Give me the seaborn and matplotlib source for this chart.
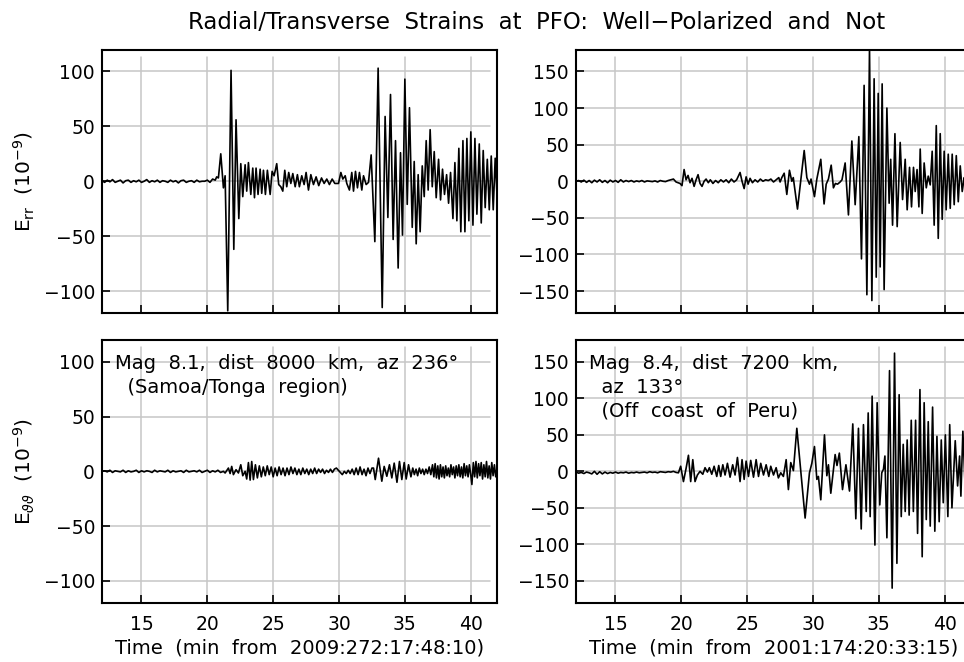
import matplotlib
matplotlib.use('Agg')
import matplotlib.pyplot as plt
import pandas as pd
import seaborn as sns

# quiet pre-event samples (min), shared by all four traces
quiet_t = [12.0, 12.2, 12.4, 12.6, 12.8, 13.0, 13.2, 13.4, 13.6, 13.8,
           14.0, 14.2, 14.4, 14.6, 14.8, 15.0, 15.2, 15.4, 15.6, 15.8,
           16.0, 16.2, 16.4, 16.6, 16.8, 17.0, 17.2, 17.4, 17.6, 17.8,
           18.0, 18.2, 18.4, 18.6, 18.8, 19.0, 19.2, 19.4, 19.6]

# Samoa/Tonga, radial strain E_rr (1e-9)
samoa_rr_quiet = [0.5, -1, 1, -0.5, 1.5, -1, 0, 1, -1.5, 0.5,
                  1, -1, 0.5, -0.5, 1, -1, 0, 1.5, -1, 0.5,
                  -0.5, 1, -1, 0.5, 0, -1, 1, -0.5, 0.5, -1.5,
                  0.5, 1, -1, 0, 0.5, -1, 1, -0.5, 0]
samoa_rr_t = [19.8, 20.0, 20.2, 20.4, 20.6, 20.71, 20.84, 21.02, 21.22, 21.35,
              21.55, 21.80, 22.01, 22.18, 22.39, 22.54, 22.69, 22.87, 22.99, 23.12,
              23.30, 23.45, 23.58, 23.70, 23.85, 24.01, 24.13, 24.26, 24.41, 24.56,
              24.77, 24.92, 25.07, 25.27, 25.42, 25.58, 25.73, 25.88, 26.03, 26.18,
              26.34, 26.49, 26.67, 26.84, 26.99, 27.17, 27.35, 27.50, 27.68, 27.86,
              28.06, 28.26, 28.46, 28.67, 28.87, 29.07, 29.27, 29.48, 29.68, 29.96,
              30.14, 30.29, 30.47, 30.59, 30.79, 30.97, 31.10, 31.25, 31.40, 31.55,
              31.73, 31.86, 32.06, 32.24, 32.44, 32.72, 32.97, 33.28, 33.50, 33.71,
              33.91, 34.11, 34.29, 34.49, 34.67, 34.82, 35.00, 35.18, 35.35, 35.56,
              35.71, 35.86, 36.01, 36.16, 36.32, 36.47, 36.62, 36.77, 36.92, 37.08,
              37.23, 37.38, 37.56, 37.71, 37.86, 38.01, 38.17, 38.32, 38.47, 38.65,
              38.80, 38.95, 39.10, 39.25, 39.41, 39.56, 39.71, 39.86, 40.01, 40.17,
              40.32, 40.47, 40.65, 40.80, 40.95, 41.10, 41.26, 41.41, 41.56, 41.71,
              41.86, 42.02]
samoa_rr_v = [0, 1, -1, 2, 1, 4, 3, 25, -6, 5,
              -118, 101, -62, 56, -34, 16, -14, 15, -9, 17,
              -12, 12, -15, 12, -12, 11, -11, 10, -12, 10,
              -12, 9, 5, 16, -3, -5, -9, 10, -5, 8,
              -2, 7, -5, 6, -5, 5, -3, 8, -8, 6,
              -3, 4, -4, 3, -2, 2, -3, 2, -2, -2,
              8, 2, 5, -2, -8, 8, -9, 9, -6, 8,
              -8, 5, -3, -1, 24, -55, 103, -115, 59, -33,
              79, -53, 37, -79, 26, -49, 93, -21, 67, -42,
              18, -57, 6, -46, 14, -14, 37, -8, 47, -5,
              27, -15, 20, -17, 11, -12, 6, -20, 8, -34,
              17, -36, 30, -46, 37, -46, 39, -36, 45, -40,
              39, -30, 34, -38, 28, -24, 20, -26, 23, -26,
              21, -18]

# Peru, radial strain E_rr (1e-9)
peru_rr_quiet = [0, 1, -1, 1.5, -1.5, 1, -2, 1.5, -1, 2,
                 -1.5, 1, -2, 1.5, -1, 1, -1.5, 2, -1, 1,
                 -0.5, 1, -1, 0.5, -0.5, 1, -1, 0.5, 0, -0.5,
                 0.5, -1, 1, 0, -0.5, 1, 2, 3, -1]
peru_rr_t = [19.90, 20.05, 20.21, 20.36, 20.51, 20.66, 20.81, 20.97, 21.12, 21.27,
             21.42, 21.57, 21.73, 21.88, 22.05, 22.2, 22.4, 22.6, 22.8, 23.0,
             23.2, 23.4, 23.6, 23.8, 24.0, 24.2, 24.46, 24.61, 24.77, 24.92,
             25.07, 25.22, 25.4, 25.6, 25.8, 26.0, 26.2, 26.4, 26.6, 26.8,
             27.0, 27.2, 27.4, 27.5, 27.63, 27.81, 28.01, 28.21, 28.39, 28.50,
             28.82, 29.33, 29.53, 29.73, 29.85, 30.11, 30.29, 30.59, 30.84, 31.0,
             31.17, 31.38, 31.55, 31.7, 31.86, 32.06, 32.2, 32.44, 32.69, 32.95,
             33.20, 33.48, 33.68, 33.88, 34.09, 34.29, 34.47, 34.64, 34.80, 34.95,
             35.10, 35.25, 35.40, 35.61, 35.78, 35.90, 36.04, 36.22, 36.39, 36.62,
             36.80, 37.0, 37.15, 37.33, 37.48, 37.63, 37.76, 37.90, 38.04, 38.14,
             38.29, 38.44, 38.60, 38.75, 38.90, 39.05, 39.20, 39.36, 39.51, 39.66,
             39.81, 39.96, 40.11, 40.27, 40.42, 40.57, 40.72, 40.88, 41.03, 41.18,
             41.33, 41.48, 41.65, 41.8, 42.0]
peru_rr_v = [-3, -6, 16, 2, 8, -2, 4, -7, 2, 9,
             -3, -7, 0, 3, -2, 2, -3, 1, -2, 2,
             -1, 2, -2, 3, -1, 2, 12, 0, -10, 6,
             -4, 4, -2, 2, -1, 3, 0, 2, 1, 3,
             -1, 2, 5, -1, 5, 11, -18, 15, 0, 5,
             -38, 42, 5, -4, 3, -21, 3, 30, -31, -4,
             3, 22, -9, -3, -4, -1, 2, 25, -46, 55,
             -32, 61, -106, 131, -155, 182, -163, 140, -131, 120,
             -117, 133, -148, 100, -30, 30, -60, 65, -62, 53,
             -25, 30, -39, 19, -35, 19, -14, 16, -35, 44,
             -44, 25, -9, 7, -5, 41, -60, 76, -78, 65,
             -52, 41, -39, 37, -37, 37, -32, 35, -28, 21,
             -14, 5, -8, 6, -3]

# Samoa/Tonga, transverse strain E_tt (1e-9)
samoa_tt_quiet = [0, 0.5, -0.5, 1, -1, 0.5, 0, -0.5, 1, -1,
                  0.5, -0.5, 0, 1, -1, 0.5, -0.5, 0.5, 0, -1,
                  1, -0.5, 0.5, 0, -0.5, 1, -1, 0.5, -0.5, 0,
                  0.5, -1, 1, -0.5, 0, 0.5, -0.5, 1, -1]
samoa_tt_t = [19.8, 20.0, 20.2, 20.4, 20.6, 20.8, 21.0, 21.22, 21.35, 21.60,
              21.73, 21.85, 21.98, 22.18, 22.36, 22.54, 22.69, 22.87, 22.99, 23.12,
              23.25, 23.37, 23.50, 23.65, 23.80, 23.95, 24.10, 24.25, 24.40, 24.55,
              24.70, 24.85, 25.00, 25.15, 25.30, 25.45, 25.60, 25.75, 25.90, 26.05,
              26.20, 26.35, 26.50, 26.65, 26.80, 26.95, 27.10, 27.25, 27.40, 27.55,
              27.70, 27.85, 28.00, 28.15, 28.30, 28.45, 28.60, 28.75, 28.90, 29.05,
              29.20, 29.35, 29.50, 29.65, 29.80, 29.95, 30.10, 30.25, 30.40, 30.55,
              30.70, 30.85, 31.00, 31.15, 31.30, 31.45, 31.60, 31.75, 31.90, 32.05,
              32.20, 32.35, 32.50, 32.62, 32.75, 33.00, 33.25, 33.43, 33.63, 33.83,
              34.01, 34.19, 34.40, 34.59, 34.77, 34.95, 35.10, 35.28, 35.46, 35.60,
              35.72, 35.85, 35.97, 36.10, 36.22, 36.35, 36.47, 36.60, 36.72, 36.85,
              36.97, 37.10, 37.20, 37.30, 37.40, 37.50, 37.60, 37.70, 37.80, 37.90,
              38.00, 38.10, 38.20, 38.30, 38.40, 38.50, 38.60, 38.70, 38.80, 38.90,
              39.00, 39.10, 39.20, 39.30, 39.40, 39.50, 39.60, 39.70, 39.80, 39.90,
              40.00, 40.09, 40.20, 40.30, 40.40, 40.50, 40.60, 40.70, 40.80, 40.90,
              41.00, 41.10, 41.20, 41.30, 41.40, 41.50, 41.60, 41.70, 41.80, 41.90,
              42.00]
samoa_tt_v = [0, 1, -1, 0.5, -0.5, 1, -1, 0, -1.5, 3,
              -2, 4.5, -3, 1.5, -1.5, 6, -4, 0, -7, 8,
              -8, 9, -7.5, 6, -6, 5, -5, 4, -4, 5,
              -3, 4, -5, 3, -4, 4, -3, 3, -4, 3,
              -3, 4, -2, 3, -3, 2, -3, 3, -2, 2,
              -3, 2, -2, 3, -2, 2, -1, 2, -2, 1,
              -1, 2, -1, 2, 3, 1, -1, -3, 0, -2,
              1, -2, 2, -3, 3, -3, 4, -3, 2, -4,
              3, -2, 3, 3, -7.5, 12, -9, 4.5, -4.5, 6,
              -6, 7.5, -10, 9, -7.5, 8, -7, 6, -5, 3,
              -3, 2, -4, 3, -2, 2, -3, 2, -2, 4,
              -3, 6, -5, 7, -6, 5, -7, 6, -5, 4,
              -6, 5, -4, 3, -5, 6, -3, 4, -6, 5,
              -4, 6, -5, 4, -6, 7, -4, 5, -5, 6,
              -3, -12, 8, -5, 9, -6, 7, -4, 8, -7,
              6, -5, 9, -6, 5, -7, 8, -4, 6, -5,
              3]

# Peru, transverse strain E_tt (1e-9)
peru_tt_quiet = [-1, -2.5, -1.5, -3, -1, -2, -3.5, 0, -4, -0.5,
                 -3.5, -1, -3, -1.5, -2.5, -1, -2.5, -1.5, -2, -1,
                 -2.5, -1.5, -2, -1, -2, -1.5, -1, -2, -0.5, -1.5,
                 -1, -2, -0.5, -1, -1.5, -0.5, -1, 0, -1.5]
peru_tt_t = [19.78, 19.95, 20.16, 20.36, 20.54, 20.71, 20.87, 21.04, 21.22, 21.42,
             21.63, 21.80, 21.98, 22.13, 22.31, 22.49, 22.69, 22.84, 22.99, 23.15,
             23.32, 23.50, 23.70, 23.90, 24.08, 24.26, 24.46, 24.61, 24.77, 24.92,
             25.10, 25.27, 25.48, 25.68, 25.86, 26.03, 26.24, 26.44, 26.64, 26.79,
             27.00, 27.20, 27.37, 27.55, 27.75, 27.96, 28.13, 28.31, 28.51, 28.77,
             29.40, 29.73, 29.91, 30.11, 30.29, 30.41, 30.59, 30.87, 31.05, 31.17,
             31.35, 31.68, 31.82, 32.00, 32.24, 32.50, 32.77, 33.02, 33.25, 33.45,
             33.66, 33.83, 34.04, 34.19, 34.34, 34.49, 34.70, 34.87, 35.07, 35.22,
             35.35, 35.46, 35.61, 35.81, 36.01, 36.19, 36.37, 36.54, 36.70, 36.85,
             37.00, 37.15, 37.30, 37.46, 37.62, 37.79, 37.94, 38.12, 38.29, 38.44,
             38.60, 38.75, 38.90, 39.08, 39.25, 39.41, 39.58, 39.74, 39.89, 40.05,
             40.24, 40.38, 40.55, 40.80, 40.98, 41.13, 41.23, 41.38, 41.55, 41.7,
             41.85, 42.0]
peru_tt_v = [-2, 7, -14, 4, 22, -14, 16, -14, -5, 0,
             -4, 5, -1, 5, -4, 7, -7, 8, -7, 9,
             -5, 11, -8, 9, -5, 19, -14, 16, -11, 14,
             -7, 15, -8, 16, -7, 11, -5, 9, -7, 7,
             -5, 5, -9, -2, -7, 16, -25, 12, 1, 59,
             -64, -2, 11, 34, -11, -7, -39, 50, -6, 9,
             -30, 23, 8, 25, -25, 9, -27, 65, -65, 59,
             -79, 64, -55, 80, -62, 103, -101, 94, -46, -2,
             3, 21, -91, 138, -160, 162, -126, 105, -62, 37,
             -55, 43, -60, 70, -55, 70, -85, 112, -117, 94,
             -66, 68, -75, 88, -82, 48, -69, 43, -43, 50,
             -62, 64, -50, 42, -20, 21, -34, 55, -20, 30,
             -15, 10]

title = 'Radial/Transverse  Strains  at  PFO:  Well\u2212Polarized  and  Not'
xlabel_samoa = 'Time  (min  from  2009:272:17:48:10)'
xlabel_peru = 'Time  (min  from  2001:174:20:33:15)'
ylabel_rr = r'E$_{\mathregular{rr}}$  (10$^{\mathregular{-9}}$)'
ylabel_tt = r'E$_{\vartheta\vartheta}$  (10$^{\mathregular{-9}}$)'
note_samoa = 'Mag  8.1,  dist  8000  km,  az  236\u00b0\n  (Samoa/Tonga  region)'
note_peru = 'Mag  8.4,  dist  7200  km,\n  az  133\u00b0\n  (Off  coast  of  Peru)'
x_ticks = [15, 20, 25, 30, 35, 40]
y_ticks_samoa = [-100, -50, 0, 50, 100]
y_ticks_peru = [-150, -100, -50, 0, 50, 100, 150]

sns.set_theme(style='white')
plt.rcParams['font.family'] = ['DejaVu Sans']
plt.rcParams['mathtext.fontset'] = 'dejavusans'
plt.rcParams['text.color'] = 'black'

fig = plt.figure(figsize=(9.64, 6.62), dpi=100)
fig.patch.set_facecolor('white')

# panel geometry: [left, bottom, width, height] in figure fraction
# right-hand column runs slightly past the figure edge, as in the original
ax_tl = fig.add_axes([0.1058, 0.5272, 0.4098, 0.398])
ax_tr = fig.add_axes([0.5975, 0.5272, 0.4098, 0.398])
ax_bl = fig.add_axes([0.1058, 0.0896, 0.4098, 0.3968])
ax_br = fig.add_axes([0.5975, 0.0896, 0.4098, 0.3968])


def draw_panel(ax, quiet_v, t, v, lim, yticks, xlabel=None, ylabel=None, note=None):
    df = pd.DataFrame({'t': quiet_t + t, 'v': quiet_v + v})
    ax.set_facecolor('white')
    # grid, stopping a little short of the top/right frame
    for x in x_ticks:
        ax.axvline(x, ymin=0, ymax=0.972, color='#c6c6c6', lw=1.1, zorder=0)
    for y in yticks:
        ax.axhline(y, xmin=0, xmax=0.983, color='#c6c6c6', lw=1.1, zorder=0)
    sns.lineplot(data=df, x='t', y='v', ax=ax, color='black', lw=1.2,
                 sort=False, estimator=None, zorder=3)
    ax.set_xlim(12, 42)
    ax.set_ylim(-lim, lim)
    ax.set_xticks(x_ticks)
    ax.set_yticks(yticks)
    ax.tick_params(direction='in', length=6, width=1.2, colors='black',
                   labelsize=13.5, bottom=True, left=True,
                   top=False, right=False)
    ax.tick_params(axis='x', pad=9)
    ax.tick_params(axis='y', pad=5)
    for s in ax.spines.values():
        s.set_color('black')
        s.set_linewidth(1.5)
    if xlabel:
        ax.set_xlabel(xlabel, fontsize=14, color='black')
        ax.xaxis.set_label_coords(0.5, -0.135)
    else:
        ax.set_xlabel('')
        ax.tick_params(labelbottom=False)
    if ylabel:
        ax.set_ylabel(ylabel, fontsize=14.5, color='black')
        ax.yaxis.set_label_coords(-0.165, 0.5)
    else:
        ax.set_ylabel('')
    if note:
        ax.text(0.034, 0.945, note, transform=ax.transAxes, fontsize=14,
                ha='left', va='top', linespacing=1.3, color='black', zorder=4)


draw_panel(ax_tl, samoa_rr_quiet, samoa_rr_t, samoa_rr_v, 120, y_ticks_samoa,
           ylabel=ylabel_rr)
draw_panel(ax_tr, peru_rr_quiet, peru_rr_t, peru_rr_v, 180, y_ticks_peru)
draw_panel(ax_bl, samoa_tt_quiet, samoa_tt_t, samoa_tt_v, 120, y_ticks_samoa,
           xlabel=xlabel_samoa, ylabel=ylabel_tt, note=note_samoa)
draw_panel(ax_br, peru_tt_quiet, peru_tt_t, peru_tt_v, 180, y_ticks_peru,
           xlabel=xlabel_peru, note=note_peru)

fig.text(0.5565, 0.966, title, ha='center', va='center', fontsize=16.5, color='black')

fig.savefig('out.png', dpi=100, facecolor='white')
